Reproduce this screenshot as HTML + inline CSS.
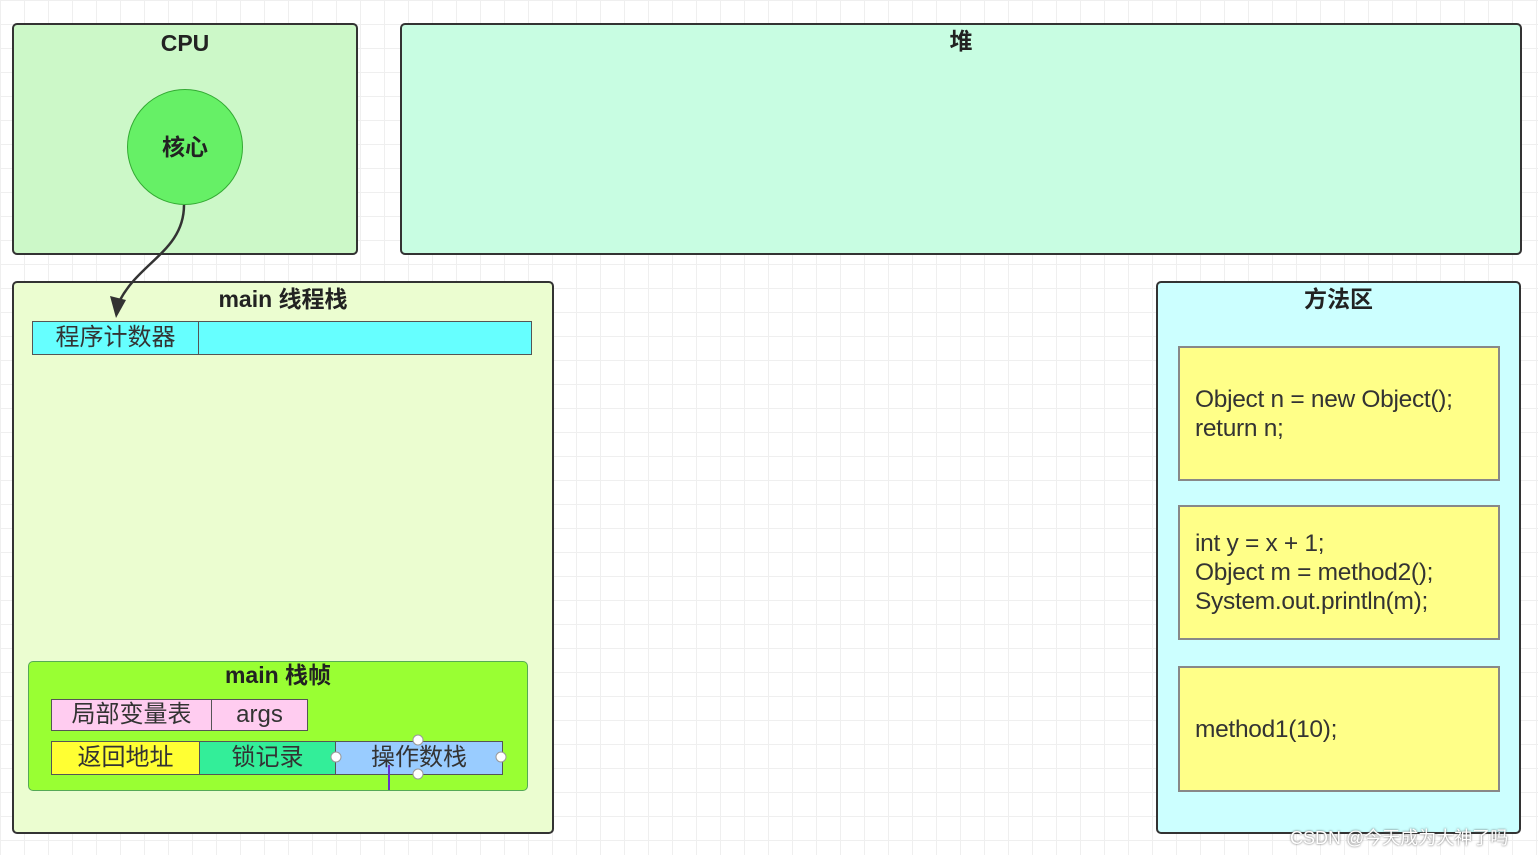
<!DOCTYPE html>
<html><head><meta charset="utf-8"><style>
body{margin:0;width:1538px;height:855px;overflow:hidden;position:relative;background:#fff;
background-image:linear-gradient(#efefef 1px,transparent 1px),linear-gradient(90deg,#efefef 1px,transparent 1px);background-size:24px 24px;
font-family:"Liberation Sans","Noto Sans CJK SC",sans-serif;color:#222}
.b{position:absolute;box-sizing:border-box;border:2px solid #333;border-radius:5px}
.t{position:absolute;left:0;right:0;text-align:center;font-weight:bold;font-size:23px;line-height:28px}
.c{position:absolute;box-sizing:border-box;border:1.5px solid #555;font-size:24px;text-align:center;color:#333}
.y{position:absolute;box-sizing:border-box;border:2px solid #888;background:#ffff88;font-size:24.5px;letter-spacing:-0.3px;padding-left:15px;display:flex;flex-direction:column;justify-content:center;line-height:29px;color:#333}
</style></head><body>
<div class="b" style="left:12px;top:23px;width:346px;height:232px;background:#ccf8c8"><div class="t" style="top:4px">CPU</div></div>
<div class="b" style="left:400px;top:23px;width:1122px;height:232px;background:#c8fde2"><div class="t" style="top:2px">堆</div></div>
<div style="position:absolute;left:127px;top:89px;width:116px;height:116px;border-radius:50%;background:#66f066;border:1.5px solid #3a3;box-sizing:border-box;display:flex;align-items:center;justify-content:center;font-weight:bold;font-size:23px;padding-bottom:4px">核心</div>
<div class="b" style="left:12px;top:281px;width:542px;height:553px;background:#ebfdd0"><div class="t" style="top:2px">main 线程栈</div></div>
<div class="c" style="left:32px;top:321px;width:167px;height:34px;background:#66ffff;line-height:32px">程序计数器</div>
<div class="c" style="left:198px;top:321px;width:334px;height:34px;background:#66ffff"></div>
<div class="b" style="left:28px;top:661px;width:500px;height:130px;background:#99ff33;border-width:1.5px;border-color:#5a5"><div class="t" style="top:-1px">main 栈帧</div></div>
<div class="c" style="left:51px;top:699px;width:161px;height:32px;background:#ffccf0;line-height:30px">局部变量表</div>
<div class="c" style="left:211px;top:699px;width:97px;height:32px;background:#ffccf0;line-height:30px">args</div>
<div class="c" style="left:51px;top:741px;width:149px;height:34px;background:#ffff33;line-height:32px">返回地址</div>
<div class="c" style="left:199px;top:741px;width:137px;height:34px;background:#33ee99;line-height:32px">锁记录</div>
<div class="c" style="left:335px;top:741px;width:168px;height:34px;background:#99ccff;line-height:32px">操作数栈</div>
<div class="b" style="left:1156px;top:281px;width:365px;height:553px;background:#ccffff"><div class="t" style="top:2px">方法区</div></div>
<div class="y" style="left:1178px;top:346px;width:322px;height:135px">Object n = new Object();<br>return n;</div>
<div class="y" style="left:1178px;top:505px;width:322px;height:135px">int y = x + 1;<br>Object m = method2();<br>System.out.println(m);</div>
<div class="y" style="left:1178px;top:666px;width:322px;height:126px">method1(10);</div>
<svg style="position:absolute;left:0;top:0" width="1538" height="855">
<path d="M184 205 C184 250 140 262 120 300" fill="none" stroke="#333" stroke-width="2.5"/>
<polygon points="110,296 126,300 116,318" fill="#333"/>
<g fill="#fff" stroke="#999" stroke-width="1"><circle cx="418" cy="740" r="5"/><circle cx="418" cy="774" r="5"/><circle cx="336" cy="757" r="5"/><circle cx="501" cy="757" r="5"/></g>
<line x1="389" y1="765" x2="389" y2="790" stroke="#6633cc" stroke-width="2"/>
</svg>
<div style="position:absolute;left:1290px;top:824px;font-size:18px;color:#fff;text-shadow:0 0 2px #555">CSDN @今天成为大神了吗</div>
</body></html>
